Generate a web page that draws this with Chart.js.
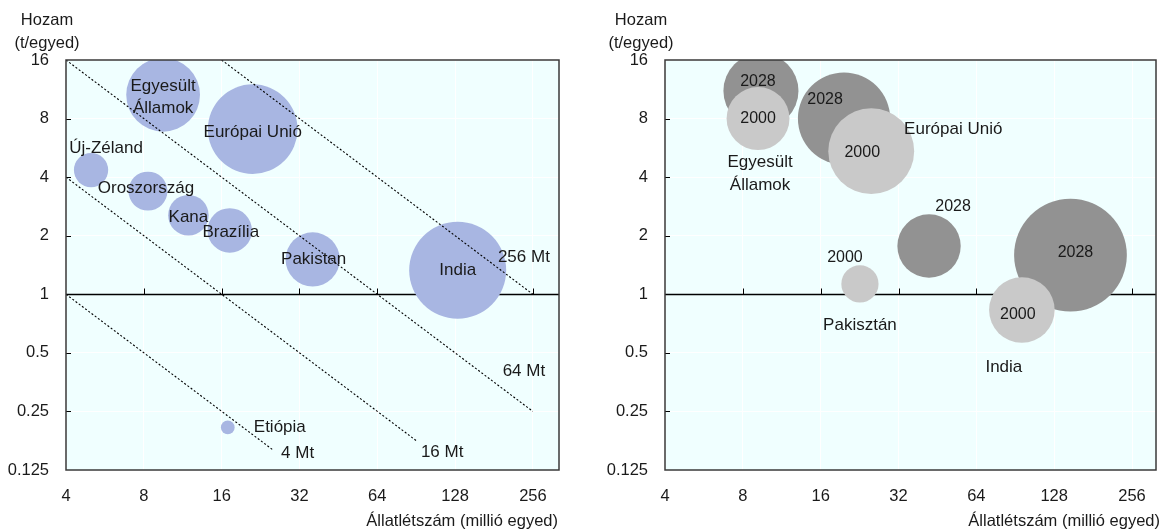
<!DOCTYPE html>
<html><head><meta charset="utf-8">
<script src="https://cdn.jsdelivr.net/npm/chart.js@4"></script>
<style>
html,body{margin:0;padding:0;background:#fff;}
#wrap{position:relative;width:1160px;height:530px;}
.box{position:absolute;top:0;width:580px;height:530px;}
canvas{display:block;}
</style></head><body>
<div id="wrap">
<div class="box" style="left:0"><canvas id="c1" width="580" height="530"></canvas></div>
<div class="box" style="left:580px"><canvas id="c2" width="580" height="530"></canvas></div>
</div>
<script>
// ---- tick values ----
const xTickValues = [4, 8, 16, 32, 64, 128, 256];
const yTickValues = [0.125, 0.25, 0.5, 1, 2, 4, 8, 16];

// ---- left panel: herd size (million head) and yield (t/head) ----
const leftCountries = ['Egyesült Államok', 'Európai Unió', 'Új-Zéland', 'Oroszország', 'Kana', 'Brazília', 'Pakistan', 'India', 'Etiópia'];
const leftHerd  = [9.5, 21.1, 5.0, 8.3, 11.9, 17.2, 36, 131, 16.9];
const leftYield = [10.6, 7.06, 4.35, 3.39, 2.55, 2.13, 1.51, 1.33, 0.207];

// ---- iso-production lines (Mt) ----
const isoNames  = ['4 Mt', '16 Mt', '64 Mt', '256 Mt'];
const isoStartX = [4, 4, 4, 16];
const isoStartY = [1, 4, 16, 16];
const isoEndX   = [25.2, 90.5, 256, 256];
const isoEndY   = [0.159, 0.177, 0.25, 1];

// ---- right panel: 2000 vs 2028 ----
const rightCountries = ['Egyesült Államok', 'Európai Unió', 'Pakisztán', 'India'];
const herd2000  = [9.16, 25.1, 22.7, 96];
const yield2000 = [8.0, 5.44, 1.13, 0.83];
const herd2028  = [9.4, 19.7, 42, 148];
const yield2028 = [11.1, 8.0, 1.77, 1.59];

const yTitleLines = ['Hozam', '(t/egyed)'];
const xTitle = 'Állatlétszám (millió egyed)';

// ---- styling ----
const FONT = '"Liberation Sans", Arial, sans-serif';
const TEXT = '#1a1a1a';
const BG = '#F0FFFF';
const BLUE = '#A8B6E2';
const DARK = '#929292';
const LIGHT = '#C9C9C9';
const AREA_K = 13.5; // bubble area scale (px^2 per Mt)

function bubbleRadius(ctx) {
  const p = ctx.raw;
  return p ? Math.sqrt(AREA_K * p.x * p.y) : 0;
}

const framePlugin = {
  id: 'frame',
  beforeDraw(chart) {
    const a = chart.chartArea, c = chart.ctx;
    c.save(); c.fillStyle = BG; c.fillRect(a.left, a.top, a.right - a.left, a.bottom - a.top); c.restore();
  },
  beforeDatasetsDraw(chart) {
    const a = chart.chartArea, c = chart.ctx, xs = chart.scales.x, ys = chart.scales.y;
    c.save();
    c.strokeStyle = '#000'; c.lineWidth = 1.4;
    const y1 = Math.round(ys.getPixelForValue(1)) + 0.5;
    c.beginPath(); c.moveTo(a.left, y1); c.lineTo(a.right, y1); c.stroke();
    c.lineWidth = 1;
    xTickValues.forEach(v => {
      if (v <= xs.min) return;
      const x = Math.round(xs.getPixelForValue(v)) + 0.5;
      c.beginPath(); c.moveTo(x, y1); c.lineTo(x, y1 - 6); c.stroke();
    });
    yTickValues.forEach(v => {
      if (v <= ys.min || v >= ys.max || v === 1) return;
      const y = Math.round(ys.getPixelForValue(v)) + 0.5;
      c.beginPath(); c.moveTo(a.left, y); c.lineTo(a.left + 5, y); c.stroke();
    });
    c.restore();
  },
  afterDatasetsDraw(chart, args, opts) {
    const a = chart.chartArea, c = chart.ctx;
    c.save();
    c.strokeStyle = '#3a3a3a'; c.lineWidth = 1.5;
    c.strokeRect(a.left, a.top, a.right - a.left, a.bottom - a.top);
    c.fillStyle = TEXT; c.textAlign = 'center'; c.textBaseline = 'middle';
    (opts.labels || []).forEach(l => {
      const el = chart.getDatasetMeta(l.ds).data[l.i];
      const lines = l.lines;
      const lh = l.lh || 22;
      c.font = (l.size || 17) + 'px ' + FONT;
      const cx = el.x + l.dx, cy = el.y + l.dy;
      lines.forEach((t, k) => {
        c.fillText(t, cx, cy + (k - (lines.length - 1) / 2) * lh);
      });
    });
    c.restore();
  },
  afterDraw(chart, args, opts) {
    const c = chart.ctx;
    c.save(); c.fillStyle = TEXT; c.font = '16.5px ' + FONT; c.textBaseline = 'middle';
    c.textAlign = 'center';
    c.fillText(yTitleLines[0], opts.yTitleX, 20);
    c.fillText(yTitleLines[1], opts.yTitleX, 43);
    c.textAlign = 'right';
    c.fillText(xTitle, opts.xTitleRight, 521);
    c.restore();
  }
};

function makeScales(xmax, yWidth) {
  return {
    x: {
      type: 'logarithmic', min: 4, max: xmax,
      afterBuildTicks: s => { s.ticks = xTickValues.map(v => ({ value: v })); },
      afterFit: s => { s.height = 60; s.paddingLeft = 0; s.paddingRight = 0; },
      ticks: { callback: v => String(v), color: TEXT, font: { family: FONT, size: 16.5 }, padding: 17 },
      grid: { color: '#ffffff', lineWidth: 1, drawTicks: false },
      border: { display: false }
    },
    y: {
      type: 'logarithmic', min: 0.125, max: 16,
      afterBuildTicks: s => { s.ticks = yTickValues.map(v => ({ value: v })); },
      afterFit: s => { s.width = yWidth; s.paddingTop = 0; s.paddingBottom = 0; },
      ticks: { callback: v => String(v), color: TEXT, font: { family: FONT, size: 16.5 }, padding: 17 },
      grid: { color: '#ffffff', lineWidth: 1, drawTicks: false },
      border: { display: false }
    }
  };
}

function build(canvasId, datasets, xmax, yWidth, areaRight, frameOpts) {
  return new Chart(document.getElementById(canvasId), {
    type: 'bubble',
    data: { datasets: datasets },
    options: {
      responsive: false, animation: false, events: [],
      layout: { autoPadding: false, padding: { top: 60, right: 580 - areaRight, left: 0, bottom: 0 } },
      scales: makeScales(xmax, yWidth),
      plugins: { legend: { display: false }, tooltip: { enabled: false }, frame: frameOpts }
    },
    plugins: [framePlugin]
  });
}

// ---- left chart ----
const isoDatasets = isoNames.map((n, k) => ({
  type: 'line', label: n,
  data: [{ x: isoStartX[k], y: isoStartY[k] }, { x: isoEndX[k], y: isoEndY[k] }],
  borderColor: '#000', borderWidth: 1.1, borderDash: [2, 2], pointRadius: 0, fill: false, tension: 0
}));
const leftBubbles = {
  type: 'bubble', label: 'Országok',
  data: leftHerd.map((h, i) => ({ x: h, y: leftYield[i] })),
  backgroundColor: BLUE, borderWidth: 0, radius: bubbleRadius, hoverRadius: 0
};
const B = isoDatasets.length; // index of bubble dataset
const leftLabels = [
  { ds: B, i: 0, lines: ['Egyesült', 'Államok'], dx: 0, dy: 3 },
  { ds: B, i: 1, lines: ['Európai Unió'], dx: 0, dy: 3 },
  { ds: B, i: 2, lines: ['Új-Zéland'], dx: 15, dy: -22 },
  { ds: B, i: 3, lines: ['Oroszország'], dx: -2, dy: -3 },
  { ds: B, i: 4, lines: ['Kana'], dx: 0, dy: 2 },
  { ds: B, i: 5, lines: ['Brazília'], dx: 1, dy: 2 },
  { ds: B, i: 6, lines: ['Pakistan'], dx: 1, dy: 0 },
  { ds: B, i: 7, lines: ['India'], dx: 0, dy: 0 },
  { ds: B, i: 8, lines: ['Etiópia'], dx: 52, dy: 0 },
  { ds: 0, i: 1, lines: [isoNames[0]], dx: 25, dy: 4 },
  { ds: 1, i: 1, lines: [isoNames[1]], dx: 26, dy: 12 },
  { ds: 2, i: 1, lines: [isoNames[2]], dx: -9, dy: -40 },
  { ds: 3, i: 1, lines: [isoNames[3]], dx: -9, dy: -37 }
];
leftLabels.forEach(l => { l.size = 17; });

build('c1', [...isoDatasets, leftBubbles], 323, 66, 559,
  { labels: leftLabels, yTitleX: 47, xTitleRight: 558 });

// ---- right chart ----
const ds2000 = {
  label: '2000', data: herd2000.map((h, i) => ({ x: h, y: yield2000[i] })),
  backgroundColor: LIGHT, borderWidth: 0, radius: bubbleRadius, hoverRadius: 0
};
const ds2028 = {
  label: '2028', data: herd2028.map((h, i) => ({ x: h, y: yield2028[i] })),
  backgroundColor: DARK, borderWidth: 0, radius: bubbleRadius, hoverRadius: 0
};
const rightLabels = [
  { ds: 1, i: 0, lines: ['2028'], dx: -3, dy: -9, size: 16 },
  { ds: 0, i: 0, lines: ['2000'], dx: 0, dy: 0, size: 16 },
  { ds: 1, i: 1, lines: ['2028'], dx: -19, dy: -19, size: 16 },
  { ds: 0, i: 1, lines: ['2000'], dx: -9, dy: 1, size: 16 },
  { ds: 1, i: 2, lines: ['2028'], dx: 24, dy: -39, size: 16 },
  { ds: 0, i: 2, lines: ['2000'], dx: -15, dy: -26, size: 16 },
  { ds: 1, i: 3, lines: ['2028'], dx: 5, dy: -3, size: 16 },
  { ds: 0, i: 3, lines: ['2000'], dx: -4, dy: 5, size: 16 },
  { ds: 0, i: 0, lines: ['Egyesült', 'Államok'], dx: 2, dy: 55, size: 17, lh: 23 },
  { ds: 0, i: 1, lines: [rightCountries[1]], dx: 82, dy: -22, size: 17 },
  { ds: 0, i: 2, lines: [rightCountries[2]], dx: 0, dy: 41, size: 17 },
  { ds: 0, i: 3, lines: [rightCountries[3]], dx: -18, dy: 57, size: 17 }
];

build('c2', [ds2000, ds2028], 317, 85, 576,
  { labels: rightLabels, yTitleX: 61, xTitleRight: 580 });
</script>
</body></html>
